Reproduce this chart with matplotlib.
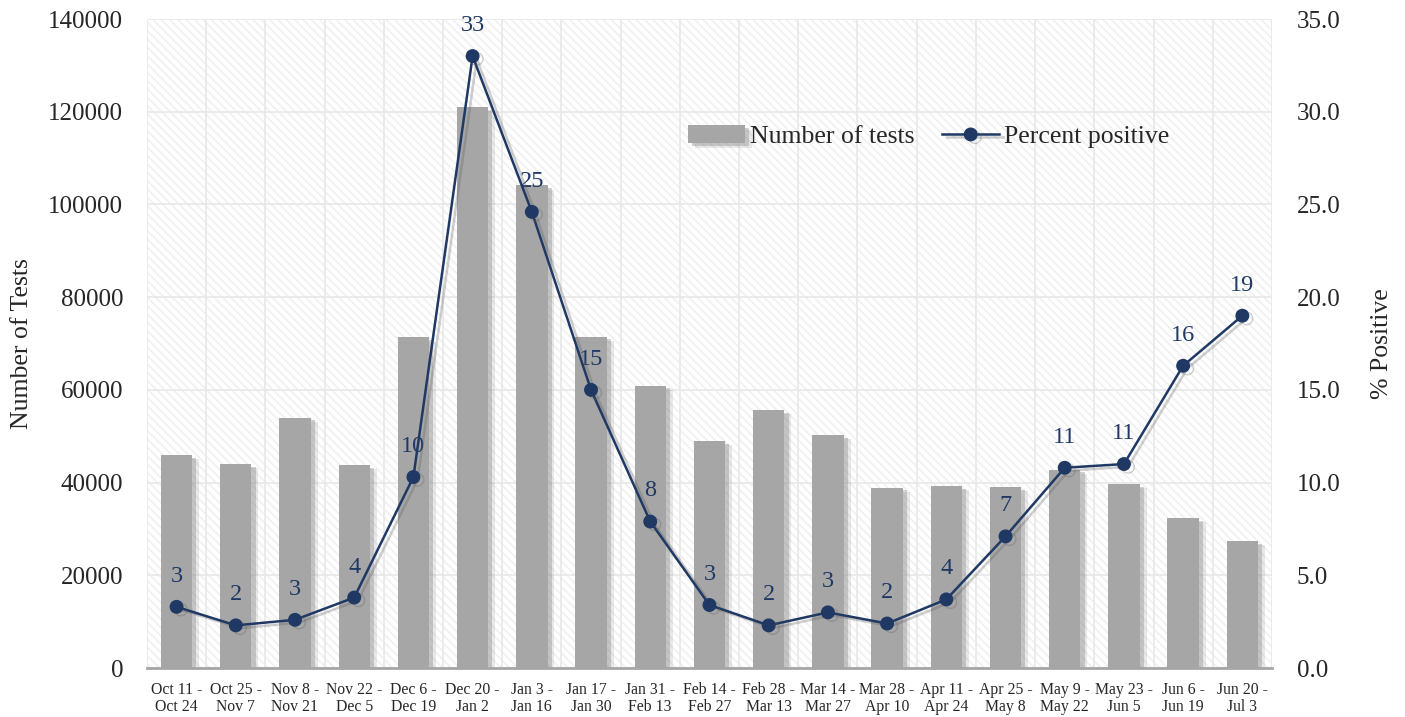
import matplotlib
matplotlib.use("Agg")

import matplotlib.pyplot as plt
import matplotlib.patheffects as pe
from matplotlib.patches import Rectangle
import numpy as np

# data
periods = [
    "Oct 11 -\nOct 24", "Oct 25 -\nNov 7", "Nov 8 -\nNov 21", "Nov 22 -\nDec 5",
    "Dec 6 -\nDec 19", "Dec 20 -\nJan 2", "Jan 3 -\nJan 16", "Jan 17 -\nJan 30",
    "Jan 31 -\nFeb 13", "Feb 14 -\nFeb 27", "Feb 28 -\nMar 13", "Mar 14 -\nMar 27",
    "Mar 28 -\nApr 10", "Apr 11 -\nApr 24", "Apr 25 -\nMay 8", "May 9 -\nMay 22",
    "May 23 -\nJun 5", "Jun 6 -\nJun 19", "Jun 20 -\nJul 3",
]
num_tests = [46000, 44000, 54000, 43800, 71300, 121000, 104100, 71500, 60900,
             49000, 55700, 50300, 38900, 39300, 39100, 42800, 39700, 32400, 27400]
pct_positive = [3.3, 2.3, 2.6, 3.8, 10.3, 33.0, 24.6, 15.0, 7.9,
                3.4, 2.3, 3.0, 2.4, 3.7, 7.1, 10.8, 11.0, 16.3, 19.0]

BAR_COLOR = "#a6a6a6"
LINE_COLOR = "#1f3864"
TEXT_COLOR = "#262626"

plt.rcParams["font.family"] = ["Liberation Serif", "DejaVu Serif"]
plt.rcParams["hatch.linewidth"] = 1.2
plt.rcParams["hatch.color"] = "#f0f0f0"

fig, ax = plt.subplots(figsize=(14.05, 7.17), dpi=100)
fig.subplots_adjust(left=0.1046, right=0.9053, top=0.9735, bottom=0.0683)

x = np.arange(len(periods))

# hatched plot background
ax.add_patch(Rectangle((0, 0), 1, 1, transform=ax.transAxes, facecolor="white",
                       hatch="\\\\\\\\", edgecolor="#f0f0f0", linewidth=0, zorder=0))

shadow = [pe.SimplePatchShadow(offset=(3, -2), shadow_rgbFace="#808080", alpha=0.35),
          pe.SimplePatchShadow(offset=(5, -3), shadow_rgbFace="#909090", alpha=0.2),
          pe.Normal()]
bars = ax.bar(x, num_tests, width=0.53, color=BAR_COLOR, zorder=3,
              label="Number of tests")
for b in bars:
    b.set_path_effects(shadow)

ax.set_xlim(-0.5, len(periods) - 0.5)
ax.set_ylim(0, 140000)
ax.set_yticks(range(0, 140001, 20000))
ax.set_xticks(x)
ax.set_xticklabels(periods, fontsize=11.3, color=TEXT_COLOR, linespacing=1.05)
ax.set_xticks(np.arange(-0.5, len(periods), 1.0), minor=True)
ax.tick_params(axis="both", which="both", length=0)
ax.tick_params(axis="y", labelsize=18, labelcolor=TEXT_COLOR, pad=17)
ax.tick_params(axis="x", pad=10)
ax.grid(axis="y", which="major", color="#e8e8e8", linewidth=1.2, zorder=1)
ax.grid(axis="x", which="minor", color="#e8e8e8", linewidth=1.2, zorder=1)
ax.set_ylabel("Number of Tests", fontsize=18.5, color=TEXT_COLOR, labelpad=11)
for side in ["top", "right", "left"]:
    ax.spines[side].set_visible(False)
ax.spines["bottom"].set_color("#a6a6a6")
ax.spines["bottom"].set_linewidth(2)
ax.spines["bottom"].set_zorder(4)

ax2 = ax.twinx()
line_shadow = [pe.SimpleLineShadow(offset=(3, -2), shadow_color="#606060", alpha=0.3),
               pe.Normal()]
ax2.plot(x, pct_positive, color=LINE_COLOR, linewidth=1.8, marker="o",
         markersize=9, label="Percent positive", path_effects=line_shadow, zorder=5)
for xi, v in zip(x, pct_positive):
    ax2.annotate(f"{v:.0f}", (xi, v), xytext=(0, 22), textcoords="offset points",
                 ha="center", va="center", fontsize=17.5, color=LINE_COLOR)
ax2.set_ylim(0, 35)
ax2.set_yticks(np.arange(0, 35.1, 5))
ax2.set_yticklabels([f"{t:.1f}" for t in np.arange(0, 35.1, 5)])
ax2.tick_params(axis="y", length=0, labelsize=18, labelcolor=TEXT_COLOR, pad=18)
ax2.set_ylabel("% Positive", fontsize=18.5, color=TEXT_COLOR, labelpad=22)
for side in ["top", "right", "left", "bottom"]:
    ax2.spines[side].set_visible(False)

h1, l1 = ax.get_legend_handles_labels()
h2, l2 = ax2.get_legend_handles_labels()
fig.legend(h1 + h2, l1 + l2, loc="center", bbox_to_anchor=(0.661, 0.809),
           ncol=2, frameon=False, fontsize=18.5, handlelength=2.2,
           handletextpad=0.2, columnspacing=1.1, labelcolor=TEXT_COLOR)

fig.savefig("out.png", dpi=100)
